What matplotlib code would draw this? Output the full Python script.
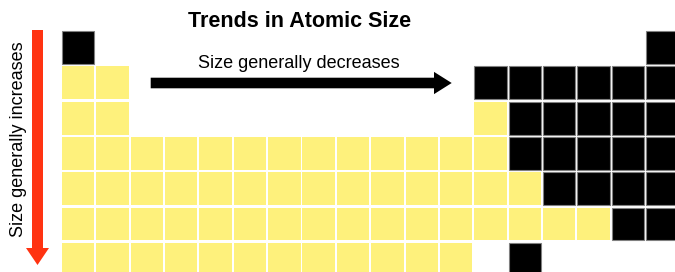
# periodic table sketch showing the trends in atomic size
import matplotlib.pyplot as plt
from matplotlib.patches import Rectangle, FancyArrow

# one string per period, one character per group: Y = larger atoms, B = smaller atoms, . = no cell
periods = [
    "B................B",
    "YY..........BBBBBB",
    "YY..........YBBBBB",
    "YYYYYYYYYYYYYBBBBB",
    "YYYYYYYYYYYYYYBBBB",
    "YYYYYYYYYYYYYYYYBB",
    "YYYYYYYYYYYY.B....",
]
title = "Trends in Atomic Size"
across_label = "Size generally decreases"
down_label = "Size generally increases"

colors = {"Y": "#fef17c", "B": "black"}
edges = {"Y": "none", "B": "#808080"}

# layout in pixels
W, H = 675, 272
x0, y0 = 62, 31.2
dx, dy = 34.35, 35.28
cw, ch = 32.4, 32.8

fig = plt.figure(figsize=(W / 100, H / 100), dpi=100)
ax = fig.add_axes([0, 0, 1, 1])
ax.set_xlim(0, W)
ax.set_ylim(H, 0)
ax.axis("off")

for r, row in enumerate(periods):
    for c, kind in enumerate(row):
        if kind == ".":
            continue
        ax.add_patch(Rectangle((x0 + c * dx, y0 + r * dy), cw, ch,
                               facecolor=colors[kind], edgecolor=edges[kind], linewidth=0.8))

ax.text(300, 21.5, title, ha="center", va="center", fontsize=15.5,
        fontweight="bold", family="Liberation Sans")
ax.text(298.5, 63, across_label, ha="center", va="center", fontsize=13,
        family="Liberation Sans")
ax.text(19, 139, down_label, ha="center", va="center", fontsize=13,
        rotation=90, family="Liberation Sans")

ax.add_patch(FancyArrow(150.7, 83, 301, 0, width=10.6, head_width=22.3,
                        head_length=17.7, length_includes_head=True,
                        color="black", linewidth=0))
ax.add_patch(FancyArrow(37.5, 30, 0, 235, width=11, head_width=23,
                        head_length=17, length_includes_head=True,
                        color="#ff3311", linewidth=0))

fig.savefig("out.png", dpi=100)
